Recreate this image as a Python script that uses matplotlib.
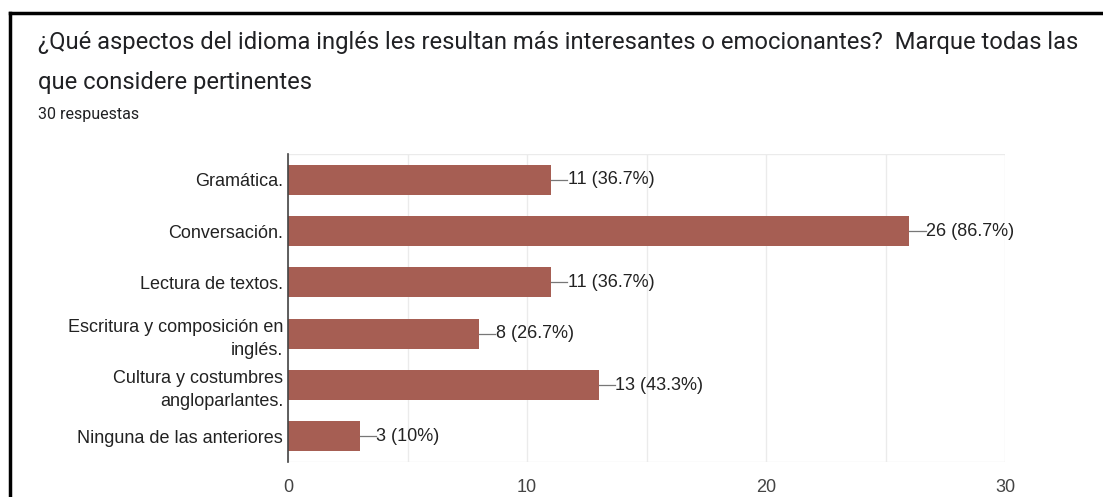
import matplotlib.pyplot as plt
from matplotlib.ticker import MultipleLocator

# Datos de la encuesta
categorias = ["Gramática.", "Conversación.", "Lectura de textos.",
              "Escritura y composición en\ninglés.", "Cultura y costumbres\nangloparlantes.",
              "Ninguna de las anteriores"]
respuestas = [11, 26, 11, 8, 13, 3]
etiquetas = ["11 (36.7%)", "26 (86.7%)", "11 (36.7%)", "8 (26.7%)", "13 (43.3%)", "3 (10%)"]

plt.rcParams['font.family'] = ['Liberation Sans', 'DejaVu Sans']

fig = plt.figure(figsize=(11.03, 4.97), dpi=100)
ax = fig.add_axes([288 / 1103, 1 - 462 / 497, (1005 - 288) / 1103, (462 - 154) / 497])

y = list(range(len(categorias)))
ax.barh(y, respuestas, height=0.59, color='#a65e53', zorder=3)
ax.set_ylim(len(categorias) - 0.5, -0.5)
ax.set_xlim(0, 30)
ax.set_yticks(y)
ax.set_yticklabels(categorias, fontsize=13, color='#222222', linespacing=1.5)
ax.xaxis.set_major_locator(MultipleLocator(10))
ax.xaxis.set_minor_locator(MultipleLocator(5))
ax.tick_params(axis='x', length=0, which='both', labelsize=13, labelcolor='#444444', pad=12)
ax.tick_params(axis='y', length=0, pad=3.5)
ax.grid(axis='x', which='both', color='#ebebeb', linewidth=1, zorder=0)

for s in ['top', 'right', 'bottom']:
    ax.spines[s].set_visible(False)
ax.spines['left'].set_color('#444444')
ax.spines['left'].set_linewidth(1.2)
ax.spines['left'].set_zorder(4)

# lineas superior e inferior del area de grafico
ax.axhline(-0.5, color='#ebebeb', linewidth=1, zorder=0)
ax.axhline(len(categorias) - 0.5, color='#ebebeb', linewidth=1, zorder=0)

# etiquetas con guion conector
for i, (v, t) in enumerate(zip(respuestas, etiquetas)):
    ax.plot([v, v + 0.68], [i, i], color='#777777', linewidth=0.9, zorder=3)
    ax.text(v + 0.7, i, t, va='center', ha='left', fontsize=13, color='#222222')

# titulo y subtitulo
fig.text(38 / 1103, 1 - 42 / 497, "¿Qué aspectos del idioma inglés les resultan más interesantes o emocionantes?  Marque todas las",
         fontsize=17.1, color='#202124', va='center', family=['Roboto', 'DejaVu Sans'])
fig.text(38 / 1103, 1 - 83 / 497, "que considere pertinentes", fontsize=17.1, color='#202124', va='center',
         family=['Roboto', 'DejaVu Sans'])
fig.text(38 / 1103, 1 - 114 / 497, "30 respuestas", fontsize=11.5, color='#202124', va='center',
         family=['Roboto', 'DejaVu Sans'])

# marco negro (arriba e izquierda)
fig.add_artist(plt.Line2D([10 / 1103, 1], [1 - 13 / 497, 1 - 13 / 497], color='black', linewidth=2.5, transform=fig.transFigure))
fig.add_artist(plt.Line2D([10 / 1103, 10 / 1103], [0, 1 - 13 / 497], color='black', linewidth=2.5, transform=fig.transFigure))

fig.savefig('out.png', dpi=100)
